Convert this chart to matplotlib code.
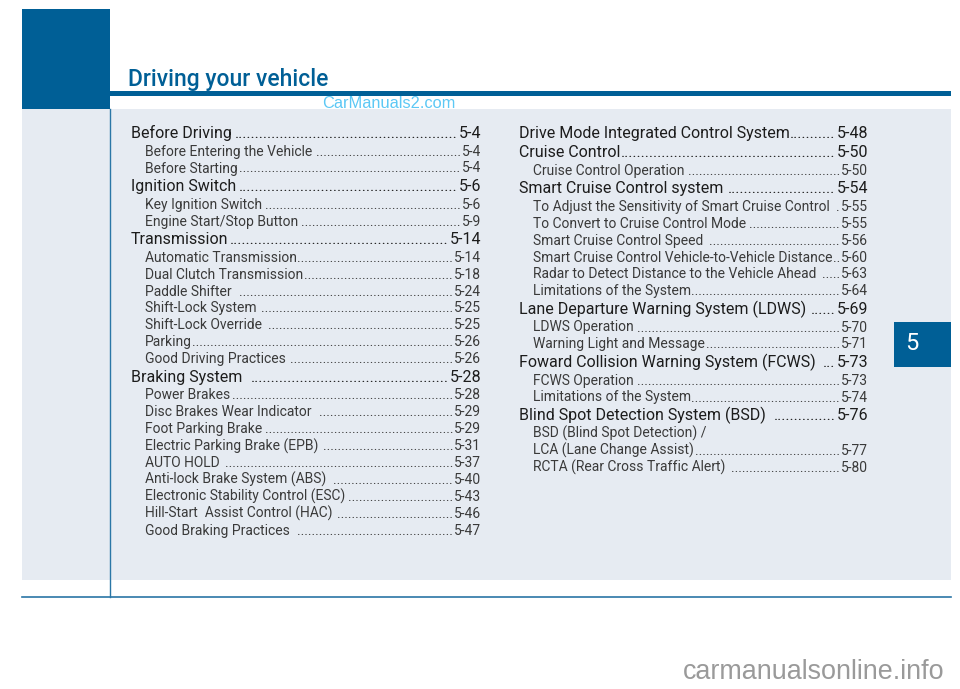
import matplotlib as mpl
mpl.use('Agg')
import matplotlib.pyplot as plt
from matplotlib.patches import Rectangle

BLUE = '#005f96'
PANEL = '#e6ebf2'
FONT = 'Roboto'

left_labels = ['Before Driving', 'Before Entering the Vehicle', 'Before Starting',
               'Ignition Switch', 'Key Ignition Switch', 'Engine Start/Stop Button',
               'Transmission', 'Automatic Transmission', 'Dual Clutch Transmission',
               'Paddle Shifter ', 'Shift-Lock System ', 'Shift-Lock Override ', 'Parking',
               'Good Driving Practices ', 'Braking System ', 'Power Brakes',
               'Disc Brakes Wear Indicator ', 'Foot Parking Brake',
               'Electric Parking Brake (EPB) ', 'AUTO HOLD ', 'Anti-lock Brake System (ABS) ',
               'Electronic Stability Control (ESC)', 'Hill-Start  Assist Control (HAC) ',
               'Good Braking Practices ']
left_pages = ['5-4', '5-4', '5-4', '5-6', '5-6', '5-9', '5-14', '5-14', '5-18', '5-24',
              '5-25', '5-25', '5-26', '5-26', '5-28', '5-28', '5-29', '5-29', '5-31',
              '5-37', '5-40', '5-43', '5-46', '5-47']
left_heads = ['Before Driving', 'Ignition Switch', 'Transmission', 'Braking System ']

right_labels = ['Drive Mode Integrated Control System', 'Cruise Control', 'Cruise Control Operation',
                'Smart Cruise Control system  ', 'To Adjust the Sensitivity of Smart Cruise Control ',
                'To Convert to Cruise Control Mode', 'Smart Cruise Control Speed ',
                'Smart Cruise Control Vehicle-to-Vehicle Distance',
                'Radar to Detect Distance to the Vehicle Ahead ', 'Limitations of the System',
                'Lane Departure Warning System (LDWS)  ', 'LDWS Operation', 'Warning Light and Message',
                'Foward Collision Warning System (FCWS) ', 'FCWS Operation', 'Limitations of the System',
                'Blind Spot Detection System (BSD) ', 'BSD (Blind Spot Detection) /',
                'LCA (Lane Change Assist)', 'RCTA (Rear Cross Traffic Alert) ']
right_pages = ['5-48', '5-50', '5-50', '5-54', '5-55', '5-55', '5-56', '5-60', '5-63', '5-64',
               '5-69', '5-70', '5-71', '5-73', '5-73', '5-74', '5-76', '', '5-77', '5-80']
right_heads = ['Drive Mode Integrated Control System', 'Cruise Control',
               'Smart Cruise Control system  ', 'Lane Departure Warning System (LDWS)  ',
               'Foward Collision Warning System (FCWS) ', 'Blind Spot Detection System (BSD) ']


def draw_column(ax, labels, pages, heads, x_head, x_sub, x_right):
    renderer = ax.figure.canvas.get_renderer()
    y = 138
    prev_head = None
    for label, page in zip(labels, pages):
        head = label in heads
        if prev_head is not None:
            if head:
                y += 19 if prev_head else 18.6
            else:
                y += 17.6 if prev_head else 16.9
        prev_head = head
        size = 11.5 if head else 10
        color = '#1c1c1c' if head else '#3a3a3a'
        x = x_head if head else x_sub
        t = ax.text(x, y, label.rstrip(), fontsize=size, color=color, family=FONT)
        if page:
            p = ax.text(x_right, y, page, fontsize=size, color=color, family=FONT, ha='right')
            t_end = t.get_window_extent(renderer).x1
            p_start = p.get_window_extent(renderer).x0
            if label.endswith(' '):
                t_end += 4
            dot = ax.text(0, 0, '..........', fontsize=size, family=FONT)
            dot_w = dot.get_window_extent(renderer).width / 10
            dot.remove()
            n = int((p_start - t_end - 1) / dot_w)
            ax.text(p_start - 1, y, '.' * n, fontsize=size, color=color, family=FONT, ha='right')


fig = plt.figure(figsize=(9.6, 6.89), dpi=100)
ax = fig.add_axes([0, 0, 1, 1])
ax.set_xlim(0, 960)
ax.set_ylim(689, 0)
ax.axis('off')

ax.add_patch(Rectangle((22, 109), 929, 471, color=PANEL, lw=0))
ax.add_patch(Rectangle((22, 9), 88, 100, color=BLUE, lw=0))
ax.add_patch(Rectangle((110, 90.5), 841, 5, color=BLUE, lw=0))
ax.add_patch(Rectangle((894, 322), 57, 45, color=BLUE, lw=0))
ax.plot([109.5, 109.5], [109, 597], color='#2a76a6', lw=1)
ax.plot([22, 951], [597, 597], color='#2a76a6', lw=1.2)

ax.text(128, 86, 'Driving your vehicle', fontsize=16.5, color=BLUE, family=FONT, fontweight='medium')
ax.text(912, 350, '5', fontsize=17, color='white', family=FONT, ha='center')

draw_column(ax, left_labels, left_pages, left_heads, 131, 145, 481)
draw_column(ax, right_labels, right_pages, right_heads, 519, 533, 868)

ax.text(322, 103, 'CarManuals2.com', fontsize=11.8, color='#5cc8f5', family='Liberation Sans', va='center')
ax.text(944, 672, 'carmanualsonline.info', fontsize=19.4, color='#9a9a9a', family='Liberation Sans', va='center', ha='right')

fig.savefig('out.png', dpi=100)
